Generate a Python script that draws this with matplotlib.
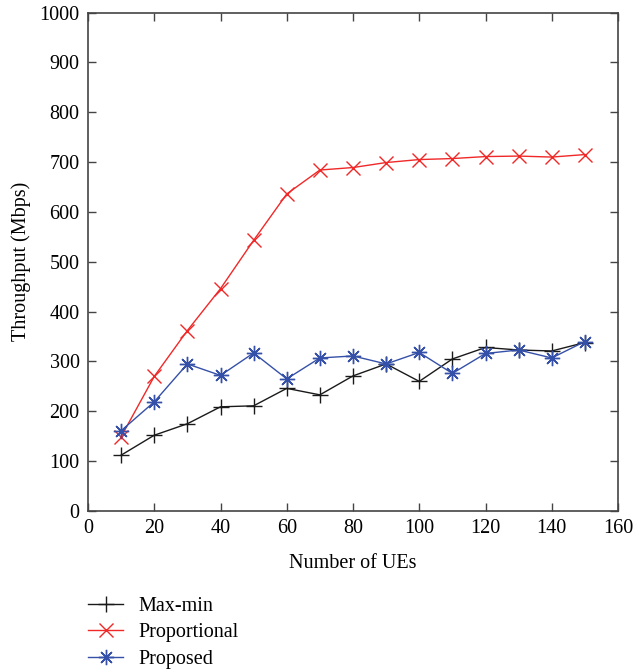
import matplotlib
matplotlib.use("Agg")
import matplotlib.pyplot as plt

ues = [10, 20, 30, 40, 50, 60, 70, 80, 90, 100, 110, 120, 130, 140, 150]
max_min = [112, 152, 175, 209, 211, 246, 233, 271, 295, 260, 305, 328, 323, 321, 338]
proportional = [149, 270, 362, 446, 543, 636, 684, 689, 699, 705, 707, 711, 712, 710, 715]
proposed = [161, 219, 295, 272, 317, 265, 307, 311, 295, 318, 276, 316, 323, 307, 340]

x_ticks = [0, 20, 40, 60, 80, 100, 120, 140, 160]
y_ticks = [0, 100, 200, 300, 400, 500, 600, 700, 800, 900, 1000]

plt.rcParams['font.family'] = ['Liberation Serif', 'DejaVu Serif']
plt.rcParams['font.size'] = 14.5

fig = plt.figure(figsize=(6.34, 6.71), dpi=100)
ax = fig.add_axes([88/634, 1-511/671, (618-88)/634, (511-12.5)/671])

ax.plot(ues, max_min, color='#1a1a1a', lw=1.0, marker='+', ms=11, mew=1.0, label='Max-min')
ax.plot(ues, proportional, color='#f02828', lw=1.0, marker='x', ms=10, mew=1.0, label='Proportional')
ax.plot(ues, proposed, color='#3550a8', lw=1.0, marker=(8, 2, 0), ms=11, mew=1.0, label='Proposed')

ax.set_xlim(0, 160)
ax.set_ylim(0, 1000)
ax.set_xticks(x_ticks)
ax.set_yticks(y_ticks)
ax.tick_params(direction='in', length=6, width=1, top=True, right=True, color='#444444', pad=6)
for s in ax.spines.values():
    s.set_color('#444444')
    s.set_linewidth(1.2)

ax.set_xlabel('Number of UEs', labelpad=11)
ax.set_ylabel('Throughput (Mbps)', labelpad=6)

leg = ax.legend(loc='upper left', bbox_to_anchor=(88/634, 1-597/671), bbox_transform=fig.transFigure,
                frameon=False, handlelength=1.75, handletextpad=0.75, labelspacing=0.36,
                borderaxespad=0, borderpad=0)

fig.savefig('out.png', dpi=100)
